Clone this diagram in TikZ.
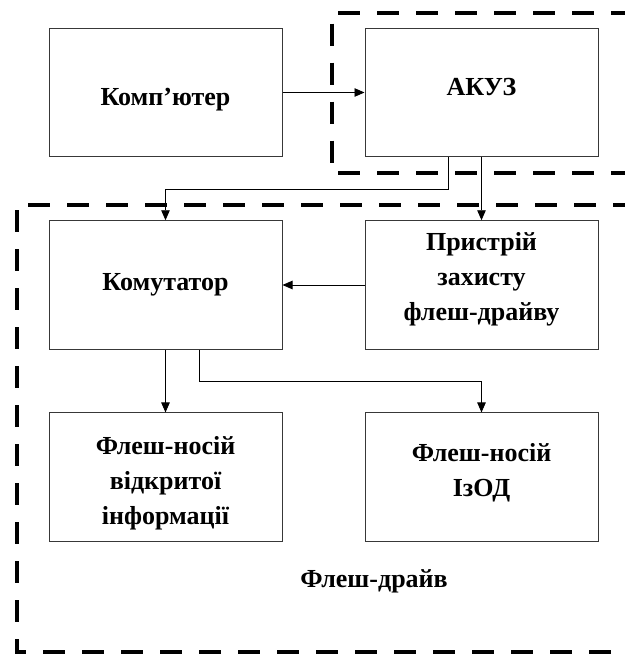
\documentclass[tikz,border=0pt]{standalone}
\usepackage{fontspec}
\setmainfont{Liberation Serif}
\usetikzlibrary{arrows.meta}
\begin{document}
\begin{tikzpicture}[x=1pt,y=-1pt,
  blk/.style={draw=black!78, line width=1pt, minimum width=233pt, minimum height=128.5pt, inner sep=0pt},
  txt/.style={font=\fontsize{26}{35}\selectfont\bfseries, align=center, inner sep=0pt},
  con/.style={line width=0.9pt, -{Triangle[length=10pt,width=8.5pt]}},
  zone/.style={line width=4pt, dash pattern=on 22pt off 17pt}]
\useasboundingbox (0,0) rectangle (624,655);
% dashed zones
\draw[zone] (338,13.3) -- (640,13.3);
\draw[zone] (331.5,23.7) -- (331.5,165);
\draw[zone] (338,172.7) -- (640,172.7);
\draw[zone] (28,205) -- (640,205);
\draw[zone] (17,210) -- (17,651.7) -- (640,651.7);
% blocks
\node[blk] (comp) at (165.5,92.5) {};
\node[blk] (akuz) at (481.5,92.5) {};
\node[blk] (kom) at (165.5,285) {};
\node[blk] (prist) at (481.5,285) {};
\node[blk] (open) at (165.5,477.2) {};
\node[blk] (izod) at (481.5,477.2) {};
% texts
\node[txt] (tcomp) at (165.5,100) {Комп’ютер};
\node[txt] (takuz) at (481.5,87) {АКУЗ};
\node[txt] (tkom) at (165.5,285) {Комутатор};
\node[txt] (tprist) at (481.5,279) {Пристрій\\захисту\\флеш-драйву};
\node[txt] (topen) at (165.5,483) {Флеш-носій\\відкритої\\інформації};
\node[txt] (tizod) at (481.5,473) {Флеш-носій\\ІзОД};
\node[txt] (tdrive) at (374,581) {Флеш-драйв};
% connectors
\draw[con] (comp) -- (akuz);
\draw[con] ([xshift=-33pt]akuz.south) -- ++(0,32) -| (kom.north);
\draw[con] (akuz) -- (prist);
\draw[con] (prist) -- (kom);
\draw[con] (kom) -- (open);
\draw[con] ([xshift=33.5pt]kom.south) -- ++(0,32) -| (izod.north);
\end{tikzpicture}
\end{document}
